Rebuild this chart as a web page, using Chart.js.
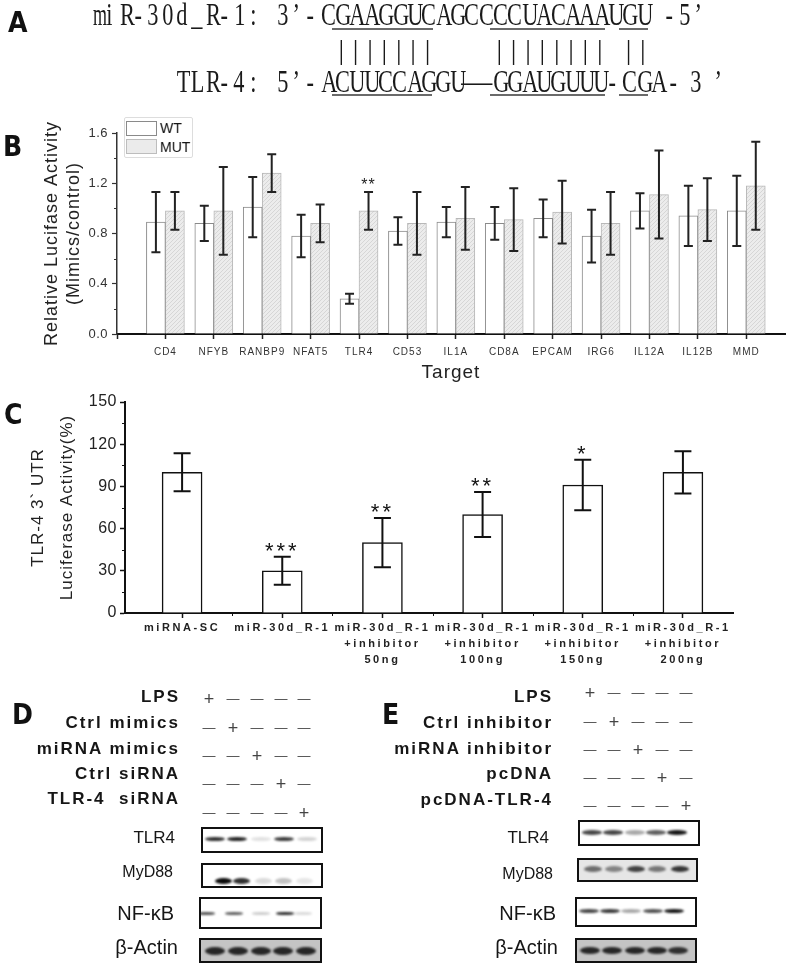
<!DOCTYPE html>
<html>
<head>
<meta charset="utf-8">
<title>miR-30d_R-1 and TLR-4</title>
<script src="https://cdn.jsdelivr.net/npm/chart.js"></script>
<style>
  body { margin: 0; width: 787px; height: 967px; position: relative; overflow: hidden; background: #fff; color: #161616; font-family: "Liberation Sans", Arial, sans-serif; filter: grayscale(1); }
  .abs { position: absolute; white-space: pre; line-height: 1; }
  .panel { font-family: "Liberation Sans Narrow", "DejaVu Sans Condensed", "Liberation Sans", sans-serif; font-weight: bold; font-size: 28px; color: #111; }
  .seq { font-family: "Liberation Serif", serif; font-size: 31px; color: #1a1a1a; text-align: center; }
  .seq span { display: inline-block; transform: scaleX(0.72); }
  .uline { position: absolute; height: 2px; background: #6a6a6a; }
  .cond { font-weight: bold; font-size: 17px; letter-spacing: 2px; }
  .sign { font-size: 16px; color: #444; width: 20px; text-align: center; }
  .blot { position: absolute; border: 2px solid #111; box-sizing: border-box; overflow: hidden; }
  .band { position: absolute; border-radius: 50%; filter: blur(1.2px); }
  .legend { position: absolute; border: 1px solid #ddd; border-radius: 2px; background: #fff; font-size: 14px; }
  canvas { position: absolute; left: 0; }
</style>
</head>
<body>
<canvas id="chartB" width="787" height="285" style="top:105px"></canvas>
<canvas id="chartC" width="787" height="290" style="top:385px"></canvas>

<script>
// ---------- panel A: pairing ----------
const mirLine = 'miR-30d_R-1: 3’-CGAAGGUCAGCCCCUACAAAUGU -5’';
const tlrLine = 'TLR-4: 5’-ACUUCCAGGU—GGAUGUUU-CGA-3’';
const mirPaired = [[17, 23], [28, 35], [37, 38]];
const tlrPaired = [[11, 17], [21, 28], [30, 31]];

// ---------- panel B: luciferase screen ----------
const targets = ['CD4', 'NFYB', 'RANBP9', 'NFAT5', 'TLR4', 'CD53', 'IL1A', 'CD8A', 'EPCAM', 'IRG6', 'IL12A', 'IL12B', 'MMD'];
const wtMean  = [0.89, 0.88, 1.01, 0.78, 0.28, 0.82, 0.89, 0.88, 0.92, 0.78, 0.98, 0.94, 0.98];
const wtErr   = [0.24, 0.14, 0.24, 0.17, 0.04, 0.11, 0.12, 0.13, 0.15, 0.21, 0.14, 0.24, 0.28];
const mutMean = [0.98, 0.98, 1.28, 0.88, 0.98, 0.88, 0.92, 0.91, 0.97, 0.88, 1.11, 0.99, 1.18];
const mutErr  = [0.15, 0.35, 0.15, 0.15, 0.15, 0.25, 0.25, 0.25, 0.25, 0.25, 0.35, 0.25, 0.35];
const mutStars = ['', '', '', '', '**', '', '', '', '', '', '', '', ''];

// ---------- panel C: inhibitor dose ----------
const doseGroups = [
  ['miRNA-SC'],
  ['miR-30d_R-1'],
  ['miR-30d_R-1', '+inhibitor', '50ng'],
  ['miR-30d_R-1', '+inhibitor', '100ng'],
  ['miR-30d_R-1', '+inhibitor', '150ng'],
  ['miR-30d_R-1', '+inhibitor', '200ng']
];
const doseMean = [100, 30, 50, 70, 91, 100];
const doseErr  = [13.5, 10, 17.5, 16, 18, 15];
const doseStars = ['', '***', '**', '**', '*', ''];

// ---------- panels D / E: western blots ----------
const dTreatments = ['LPS', 'Ctrl mimics', 'miRNA mimics', 'Ctrl siRNA', 'TLR-4  siRNA'];
const eTreatments = ['LPS', 'Ctrl inhibitor', 'miRNA inhibitor', 'pcDNA', 'pcDNA-TLR-4'];
const proteins = ['TLR4', 'MyD88', 'NF-κB', 'β-Actin'];
const dTLR4  = [0.85, 0.9, 0.12, 0.8, 0.18];
const dMyD88 = [1, 0.85, 0.15, 0.25, 0.1];
const dNFkB  = [0.7, 0.65, 0.2, 0.85, 0.15];
const dActin = [0.85, 0.85, 0.85, 0.85, 0.85];
const eTLR4  = [0.75, 0.75, 0.35, 0.65, 0.95];
const eMyD88 = [0.55, 0.45, 0.75, 0.5, 0.8];
const eNFkB  = [0.75, 0.8, 0.35, 0.7, 0.95];
const eActin = [0.85, 0.85, 0.85, 0.85, 0.8];

function put(text, cls, css) {
  const d = document.createElement('div');
  d.className = 'abs ' + cls;
  d.textContent = text;
  Object.assign(d.style, css);
  document.body.appendChild(d);
  return d;
}

// panel letters
put('A', 'panel', { left: '8px', top: '9px' });
put('B', 'panel', { left: '3px', top: '133px' });
put('C', 'panel', { left: '4px', top: '401px' });
put('D', 'panel', { left: '12px', top: '701px' });
put('E', 'panel', { left: '382px', top: '701px' });

// sequence lines, one fixed cell per character (the dash and the 3' end are wider)
const cellW = 14.36;
function seqLine(str, x0, top, paired, ulineY, wide) {
  const xs = [];
  let x = x0;
  [...str].forEach((ch, i) => {
    const w = cellW * (ch === '—' ? 2 : (wide[i] || 1));
    xs.push(x);
    const d = document.createElement('div');
    d.className = 'abs seq';
    Object.assign(d.style, { left: x + 'px', top: top + 'px', width: w + 'px' });
    const s = document.createElement('span');
    s.textContent = ch;
    if (ch === '—') s.style.transform = 'none';
    if (ch === 'm') s.style.transform = 'scaleX(0.58)';
    d.appendChild(s);
    document.body.appendChild(d);
    x += w;
  });
  paired.forEach(([a, b]) => {
    const u = document.createElement('div');
    u.className = 'uline';
    Object.assign(u.style, { left: xs[a] + 'px', top: ulineY + 'px', width: (xs[b] + cellW - xs[a]) + 'px' });
    document.body.appendChild(u);
  });
  return xs;
}
const mirX = seqLine(mirLine, 88, -1, mirPaired, 28, {});
seqLine(tlrLine, 174, 66, tlrPaired, 94, { 33: 1.5, 34: 1.6, 35: 1.6 });
mirPaired.forEach(([a, b]) => {
  for (let i = a; i <= b; i++) {
    put('|', 'seq', { left: (mirX[i] + 2) + 'px', top: '36px', width: cellW + 'px', fontSize: '28px' });
  }
});

// legend for B
const leg = document.createElement('div');
leg.className = 'legend';
Object.assign(leg.style, { left: '124px', top: '117px', width: '67px', height: '39px' });
leg.innerHTML =
  '<div style="position:absolute;left:1px;top:3px;width:29px;height:13px;border:1px solid #8a8a8a;background:#fff"></div>' +
  '<div style="position:absolute;left:35px;top:2px">WT</div>' +
  '<div style="position:absolute;left:1px;top:21px;width:29px;height:13px;border:1px solid #bdbdbd;background:#ebebeb"></div>' +
  '<div style="position:absolute;left:35px;top:21px">MUT</div>';
document.body.appendChild(leg);

// treatment tables and blots
function blotPanel(treat, lab, signs, boxes, labels) {
  treat.forEach((t, r) => {
    put(t, 'cond', { right: (787 - lab.right) + 'px', top: (lab.rows[r] - 8.5) + 'px' });
    signs.cols.forEach((cx, c) => {
      put(c === r ? '+' : '—', 'sign', { left: (cx - 10) + 'px', top: (signs.rows[r] - 8) + 'px', fontSize: c === r ? '18px' : '13px', paddingTop: c === r ? '0' : '2px' });
    });
  });
  boxes.forEach((b, k) => {
    const [x, y, w, h] = b.box;
    const el = document.createElement('div');
    el.className = 'blot';
    Object.assign(el.style, { left: x + 'px', top: y + 'px', width: w + 'px', height: h + 'px', background: b.bg || '#fff' });
    b.level.forEach((lv, i) => {
      const band = document.createElement('div');
      band.className = 'band';
      const iw = w - 4, ih = h - 4;
      Object.assign(band.style, {
        left: (b.lanes[i] * iw - b.bw / 2) + 'px', top: (b.by * ih - b.bh / 2) + 'px',
        width: b.bw + 'px', height: b.bh + 'px', background: 'rgba(10,10,10,' + lv + ')'
      });
      el.appendChild(band);
    });
    document.body.appendChild(el);
    const [rx, cy, fs] = labels[k];
    put(proteins[k], '', { right: (787 - rx) + 'px', top: (cy - fs / 2) + 'px', fontSize: fs + 'px' });
  });
}

blotPanel(dTreatments,
  { right: 180, rows: [696, 722, 748, 773, 798] },
  { cols: [209, 233, 257, 281, 304], rows: [698, 727, 755, 783, 812] },
  [
    { box: [201, 827, 122, 26], lanes: [.1, .29, .49, .69, .88], level: dTLR4, by: .45, bh: 4, bw: 20 },
    { box: [201, 863, 122, 25], lanes: [.17, .33, .51, .68, .86], level: dMyD88, by: .74, bh: 6, bw: 17 },
    { box: [199, 897, 123, 32], lanes: [.04, .28, .5, .71, .86], level: dNFkB, by: .52, bh: 2.5, bw: 18 },
    { box: [199, 938, 123, 25], lanes: [.12, .31, .5, .69, .88], level: dActin, by: .5, bh: 8, bw: 20, bg: '#c4c4c4' }
  ],
  [[175, 837, 17], [173, 872, 16], [174, 913, 20], [178, 947, 20]]);

blotPanel(eTreatments,
  { right: 553, rows: [696, 722, 748, 773, 799] },
  { cols: [590, 614, 638, 662, 686], rows: [692, 721, 749, 777, 805] },
  [
    { box: [578, 820, 122, 26], lanes: [.1, .28, .47, .64, .82], level: eTLR4, by: .48, bh: 4.5, bw: 20 },
    { box: [577, 858, 121, 24], lanes: [.12, .3, .49, .67, .86], level: eMyD88, by: .45, bh: 6, bw: 18, bg: '#e6e6e6' },
    { box: [575, 897, 122, 30], lanes: [.1, .28, .46, .64, .82], level: eNFkB, by: .45, bh: 4, bw: 20 },
    { box: [575, 938, 122, 25], lanes: [.11, .3, .49, .68, .86], level: eActin, by: .5, bh: 7, bw: 20, bg: '#c4c4c4' }
  ],
  [[549, 837, 17], [553, 874, 16], [556, 913, 20], [558, 947, 20]]);

// ---------- Chart.js helpers ----------
// linear scale that can draw its labels / title with letter spacing
class SpacedLinear extends Chart.LinearScale {
  drawLabels(area) {
    const c = this.ctx;
    c.save();
    c.letterSpacing = this.options.ticks.spacing || '0px';
    super.drawLabels(area);
    c.restore();
  }
  drawTitle() {
    const c = this.ctx;
    c.save();
    c.letterSpacing = this.options.title.spacing || '0px';
    super.drawTitle();
    c.restore();
  }
}
SpacedLinear.id = 'spacedLinear';
SpacedLinear.defaults = Chart.LinearScale.defaults;
Chart.register(SpacedLinear);

const errorBars = {
  id: 'errorBars',
  afterDatasetsDraw(chart, args, o) {
    const ctx = chart.ctx, ys = chart.scales.y;
    chart.data.datasets.forEach((ds, di) => {
      if (!ds.errors) return;
      chart.getDatasetMeta(di).data.forEach((bar, i) => {
        const v = ds.data[i].y, e = ds.errors[i];
        const top = ys.getPixelForValue(v + e), bot = ys.getPixelForValue(v - e);
        ctx.save();
        ctx.strokeStyle = o.color;
        ctx.lineWidth = o.width;
        ctx.beginPath();
        ctx.moveTo(bar.x, top); ctx.lineTo(bar.x, bot);
        ctx.moveTo(bar.x - o.cap, top); ctx.lineTo(bar.x + o.cap, top);
        ctx.moveTo(bar.x - o.cap, bot); ctx.lineTo(bar.x + o.cap, bot);
        ctx.stroke();
        if (ds.stars && ds.stars[i]) {
          ctx.fillStyle = o.color;
          ctx.font = o.starFont;
          ctx.textAlign = 'center';
          ctx.letterSpacing = o.starSpacing;
          ctx.fillText(ds.stars[i], bar.x, top + o.starDy);
        }
        ctx.restore();
      });
    });
  }
};

// short unlabeled ticks halfway between the labelled ones
const minorTicks = {
  id: 'minorTicks',
  afterDraw(chart, args, o) {
    const ctx = chart.ctx;
    ctx.save();
    ctx.strokeStyle = o.color;
    ctx.lineWidth = 1;
    ctx.beginPath();
    if (o.yStep) {
      const s = chart.scales.y;
      for (let v = s.min + o.yStep / 2; v < s.max; v += o.yStep) {
        const p = Math.round(s.getPixelForValue(v)) + 0.5;
        ctx.moveTo(s.right - o.len, p); ctx.lineTo(s.right, p);
      }
    }
    (o.xValues || []).forEach(v => {
      const s = chart.scales.x;
      const p = Math.round(s.getPixelForValue(v)) + 0.5;
      ctx.moveTo(p, s.top); ctx.lineTo(p, s.top + o.len);
    });
    ctx.stroke();
    ctx.restore();
  }
};

const ctxB = document.getElementById('chartB').getContext('2d');
const tile = document.createElement('canvas');
tile.width = 4; tile.height = 4;
const tg = tile.getContext('2d');
tg.fillStyle = '#ececec'; tg.fillRect(0, 0, 4, 4);
tg.strokeStyle = '#d6d6d6'; tg.lineWidth = 1;
tg.beginPath(); tg.moveTo(0, 4); tg.lineTo(4, 0); tg.stroke();
const hatch = ctxB.createPattern(tile, 'repeat');

new Chart(ctxB, {
  type: 'bar',
  data: {
    datasets: [
      { label: 'WT', data: targets.map((t, i) => ({ x: i + 1, y: wtMean[i] })), errors: wtErr,
        backgroundColor: '#ffffff', borderColor: '#8a8a8a', borderWidth: 1 },
      { label: 'MUT', data: targets.map((t, i) => ({ x: i + 1, y: mutMean[i] })), errors: mutErr, stars: mutStars,
        backgroundColor: hatch, borderColor: '#b8b8b8', borderWidth: 1 }
    ]
  },
  options: {
    responsive: false,
    animation: false,
    barThickness: 19,
    layout: { padding: { top: 28, left: 0, right: 2, bottom: 0 } },
    plugins: {
      legend: { display: false },
      tooltip: { enabled: false },
      errorBars: { color: '#222', width: 2, cap: 4.5, starFont: '16px "Liberation Sans", Arial', starSpacing: '1px', starDy: -2 },
      minorTicks: { color: '#333', len: 3, yStep: 0.4 }
    },
    scales: {
      x: {
        type: 'spacedLinear', min: 0, max: 13.8, offset: false,
        afterBuildTicks: s => { s.ticks = [0].concat(targets.map((t, i) => i + 1)).map(v => ({ value: v })); },
        afterFit: s => { s.height = 56; },
        ticks: { callback: v => targets[v - 1] || '', autoSkip: false, maxRotation: 0, padding: 7,
          color: '#333', font: { size: 10, family: '"Liberation Sans", Arial' }, spacing: '1px' },
        grid: { drawOnChartArea: false, offset: false, tickLength: 5, tickColor: '#222', tickWidth: 1.5 },
        border: { color: '#111', width: 2 },
        title: { display: true, text: 'Target', color: '#222', font: { size: 19, family: '"Liberation Sans", Arial' },
          padding: { top: 0, bottom: 6 }, spacing: '1px' }
      },
      y: {
        type: 'spacedLinear', min: 0, max: 1.6,
        afterFit: s => { s.width = 117; },
        ticks: { stepSize: 0.4, callback: v => v.toFixed(1), padding: 4, color: '#333',
          font: { size: 13, family: '"Liberation Sans", Arial' }, spacing: '0.5px' },
        grid: { drawOnChartArea: false, tickLength: 5, tickColor: '#333', tickWidth: 1.2 },
        border: { color: '#333', width: 1.5 },
        title: { display: true, text: ['Relative Lucifase Activity', '(Mimics/control)'], color: '#222',
          font: { size: 18, lineHeight: 1.17, family: '"Liberation Sans", Arial' }, padding: { top: 42, bottom: 0 }, spacing: '1px' }
      }
    }
  },
  plugins: [errorBars, minorTicks]
});

new Chart(document.getElementById('chartC'), {
  type: 'bar',
  data: {
    datasets: [
      { label: 'TLR-4 3` UTR', data: doseGroups.map((g, i) => ({ x: i + 1, y: doseMean[i] })), errors: doseErr, stars: doseStars,
        backgroundColor: '#ffffff', borderColor: '#111', borderWidth: 1.5 }
    ]
  },
  options: {
    responsive: false,
    animation: false,
    barThickness: 40,
    layout: { padding: { top: 17, left: 0, right: 54, bottom: 0 } },
    plugins: {
      legend: { display: false },
      tooltip: { enabled: false },
      errorBars: { color: '#111', width: 2, cap: 8.5, starFont: '22px "Liberation Sans", Arial', starSpacing: '3px', starDy: 1 },
      minorTicks: { color: '#111', len: 3, yStep: 30, xValues: [1.5, 2.5, 3.5, 4.5, 5.5] }
    },
    scales: {
      x: {
        type: 'spacedLinear', min: 0.43, max: 6.5, offset: false,
        afterBuildTicks: s => { s.ticks = doseGroups.map((g, i) => ({ value: i + 1 })); },
        afterFit: s => { s.height = 62; },
        ticks: { callback: v => doseGroups[v - 1], autoSkip: false, maxRotation: 0, padding: 2, color: '#222',
          font: { size: 11, weight: 'bold', lineHeight: 1.45, family: '"Liberation Sans", Arial' }, spacing: '2.6px' },
        grid: { drawOnChartArea: false, offset: false, tickLength: 5, tickColor: '#111', tickWidth: 1.5 },
        border: { color: '#111', width: 2 }
      },
      y: {
        type: 'spacedLinear', min: 0, max: 150,
        afterFit: s => { s.width = 125; },
        ticks: { stepSize: 30, padding: 3, color: '#222', font: { size: 16, family: '"Liberation Sans", Arial' }, spacing: '0.5px' },
        grid: { drawOnChartArea: false, tickLength: 5, tickColor: '#111', tickWidth: 1.5 },
        border: { color: '#111', width: 2 },
        title: { display: true, text: ['TLR-4 3` UTR', 'Luciferase Activity(%)'], color: '#222',
          font: { size: 17, lineHeight: 1.7, family: '"Liberation Sans", Arial' }, padding: { top: 24, bottom: 0 }, spacing: '1px' }
      }
    }
  },
  plugins: [errorBars, minorTicks]
});
</script>
</body>
</html>
